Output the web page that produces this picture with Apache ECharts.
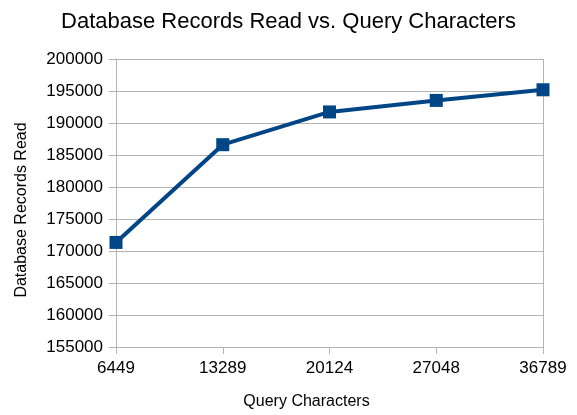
<!DOCTYPE html>
<html>
<head>
<meta charset="utf-8">
<script src="https://cdn.jsdelivr.net/npm/echarts@6/dist/echarts.min.js"></script>
<style>
  html, body { margin: 0; padding: 0; background: #fff; }
  #chart { width: 577px; height: 415px; }
</style>
</head>
<body>
<div id="chart"></div>
<script>
const queryChars = ['6449', '13289', '20124', '27048', '36789'];
const recordsRead = [171340, 186610, 191730, 193530, 195190];

const font = 'Liberation Sans, Arial, sans-serif';
const chart = echarts.init(document.getElementById('chart'));
chart.setOption({
  animation: false,
  title: {
    text: 'Database Records Read vs. Query Characters',
    left: 'center',
    top: 6,
    textStyle: { fontFamily: font, fontSize: 22, fontWeight: 'normal', color: '#000' }
  },
  grid: { left: 116, right: 34, top: 59, bottom: 66 },
  xAxis: {
    type: 'category',
    data: queryChars,
    boundaryGap: false,
    name: 'Query Characters',
    nameLocation: 'middle',
    nameGap: 47,
    nameTextStyle: { fontFamily: font, fontSize: 16, color: '#000', padding: [0, 46, 0, 0] },
    axisLine: { lineStyle: { color: '#b3b3b3' } },
    axisTick: { show: true, length: 7, lineStyle: { color: '#b3b3b3' } },
    axisLabel: { fontFamily: font, fontSize: 17, color: '#000', margin: 13 },
    // only the right-hand border, no inner vertical grid lines
    splitLine: {
      show: true,
      interval: (i) => i === queryChars.length - 1,
      lineStyle: { color: '#b3b3b3' }
    }
  },
  yAxis: {
    type: 'value',
    min: 155000,
    max: 200000,
    interval: 5000,
    name: 'Database Records Read',
    nameLocation: 'middle',
    nameGap: 86,
    nameTextStyle: { fontFamily: font, fontSize: 16, color: '#000', padding: [0, 14, 0, 0] },
    axisLine: { show: true, lineStyle: { color: '#b3b3b3' } },
    axisTick: { show: true, length: 7, lineStyle: { color: '#b3b3b3' } },
    axisLabel: { fontFamily: font, fontSize: 17, color: '#000', margin: 13, formatter: (v) => String(v) },
    splitLine: { show: true, lineStyle: { color: '#b3b3b3' } }
  },
  series: [{
    type: 'line',
    data: recordsRead,
    symbol: 'rect',
    symbolSize: 13,
    lineStyle: { color: '#004586', width: 4 },
    itemStyle: { color: '#004586' }
  }]
});
</script>
</body>
</html>
